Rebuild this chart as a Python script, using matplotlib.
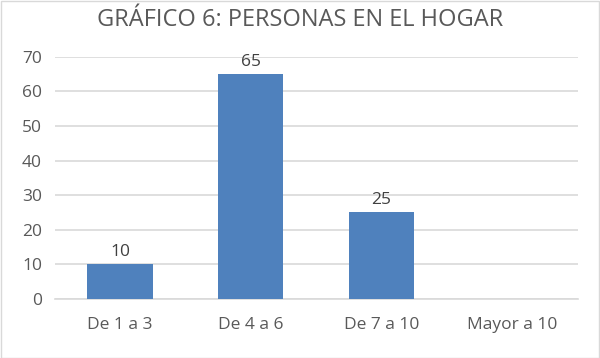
import matplotlib
matplotlib.use("Agg")
import matplotlib.pyplot as plt
from matplotlib.patches import Rectangle

categories = ["De 1 a 3", "De 4 a 6", "De 7 a 10", "Mayor a 10"]
values = [10, 65, 25, 0]
yticks = [0, 10, 20, 30, 40, 50, 60, 70]
title = "GRÁFICO 6: PERSONAS EN EL HOGAR"

plt.rcParams['font.family'] = ['Open Sans', 'DejaVu Sans']
fig = plt.figure(figsize=(6.0, 3.58), dpi=100)
ax = fig.add_axes([0.091, 0.165, 0.8715, 0.676])

x = list(range(len(categories)))
bars = ax.bar(x, values, width=0.5, color="#4f81bd", zorder=3)
for xi, v in zip(x, values):
    if v:
        ax.annotate(str(v), (xi, v), xytext=(0, 3), textcoords="offset points",
                    ha="center", va="bottom", fontsize=12.5, color="#404040")

ax.set_xlim(-0.5, len(categories) - 0.5)
ax.set_ylim(0, 70)
ax.set_yticks(yticks)
ax.set_xticks(x)
ax.set_xticklabels(categories)
ax.yaxis.grid(True, color="#d9d9d9", linewidth=1.2, zorder=0)
for s in ["top", "right", "left"]:
    ax.spines[s].set_visible(False)
ax.spines["bottom"].set_color("#d9d9d9")
ax.spines["bottom"].set_linewidth(1.2)
ax.tick_params(axis="both", length=0, labelsize=12.5, labelcolor="#595959")
ax.tick_params(axis="y", pad=9)
ax.tick_params(axis="x", pad=13)

fig.text(0.5, 0.943, title, ha="center", va="center", fontsize=17, color="#595959")
fig.patches.append(Rectangle((0.001, 0.001), 0.997, 0.997, transform=fig.transFigure,
                             fill=False, edgecolor="#d9d9d9", linewidth=1))

fig.savefig("out.png", dpi=100)
